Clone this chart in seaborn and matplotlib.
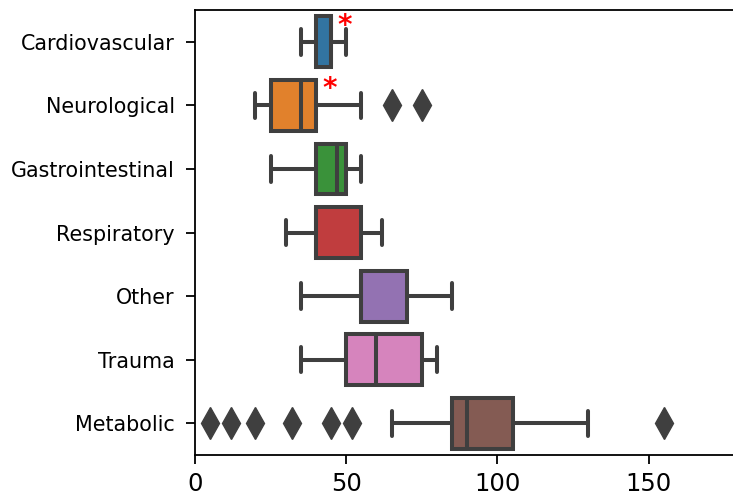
import numpy as np
import pandas as pd
import matplotlib
matplotlib.use("Agg")
import matplotlib.pyplot as plt
import seaborn as sns


categories = ["Cardiovascular", "Neurological", "Gastrointestinal", "Respiratory",
              "Other", "Trauma", "Metabolic"]

# values per category (whiskers, quartiles, median, fliers)
cardiovascular = [35, 40, 40, 45, 45, 45, 50]
neurological = [20, 22, 25, 25, 30, 35, 35, 38, 40, 40, 55, 65, 75]
gastrointestinal = [25, 35, 40, 45, 47, 50, 50, 52, 55]
respiratory = [30, 35, 40, 40, 40, 50, 55, 60, 62]
other = [35, 50, 55, 55, 55, 60, 70, 75, 85]
trauma = [35, 45, 50, 55, 60, 65, 75, 78, 80]
metabolic = [5, 12, 20, 32, 45, 52, 65, 85, 85, 86, 88, 88, 89, 90, 90,
             92, 95, 98, 100, 102, 105, 105, 108, 110, 115, 120, 125, 130, 155]

flagged = ["Cardiovascular", "Neurological"]

colors = ["#1f77b4", "#ff7f0e", "#2ca02c", "#d62728", "#9467bd", "#e377c2", "#8c564b"]


def build():
    groups = [cardiovascular, neurological, gastrointestinal, respiratory,
              other, trauma, metabolic]
    rows = []
    for cat, vals in zip(categories, groups):
        for v in vals:
            rows.append((cat, v))
    return pd.DataFrame(rows, columns=["category", "value"])


def visualize():
    df = build()
    sns.set_style("ticks")
    plt.rcParams["text.color"] = "black"
    plt.rcParams["xtick.color"] = "black"
    plt.rcParams["ytick.color"] = "black"
    plt.rcParams["axes.edgecolor"] = "black"

    fig = plt.figure(figsize=(7.33, 4.99), dpi=100)
    ax = fig.add_axes([195 / 733, 1 - 455 / 499, 539 / 733, 445 / 499])

    sns.boxplot(
        data=df, x="value", y="category", hue="category", order=categories,
        hue_order=categories, palette=dict(zip(categories, colors)), legend=False,
        saturation=0.75, width=0.8, linewidth=2.9, linecolor="#3f3f3f",
        flierprops=dict(marker="d", markersize=16, markerfacecolor="#3f3f3f",
                        markeredgecolor="#3f3f3f"),
        ax=ax,
    )

    for cat in flagged:
        i = categories.index(cat)
        q3 = np.percentile(df.loc[df.category == cat, "value"], 75)
        ax.text(q3 + 4.5, i - 0.25, "*", color="red", fontsize=20, fontweight="bold",
                ha="center", va="center")

    ax.set_xlim(0, 178.25)
    ax.set_xticks([0, 50, 100, 150])
    ax.set_xlabel("")
    ax.set_ylabel("")
    ax.spines["right"].set_visible(False)
    ax.tick_params(axis="x", labelsize=17.5, width=1.3, length=6.5, pad=5.5,
                   labelcolor="black")
    ax.tick_params(axis="y", labelsize=14.9, width=1.3, length=6.5, pad=8,
                   labelcolor="black")
    for s in ax.spines.values():
        s.set_linewidth(1.3)

    fig.savefig("out.png", dpi=100)


if __name__ == '__main__':
    visualize()
